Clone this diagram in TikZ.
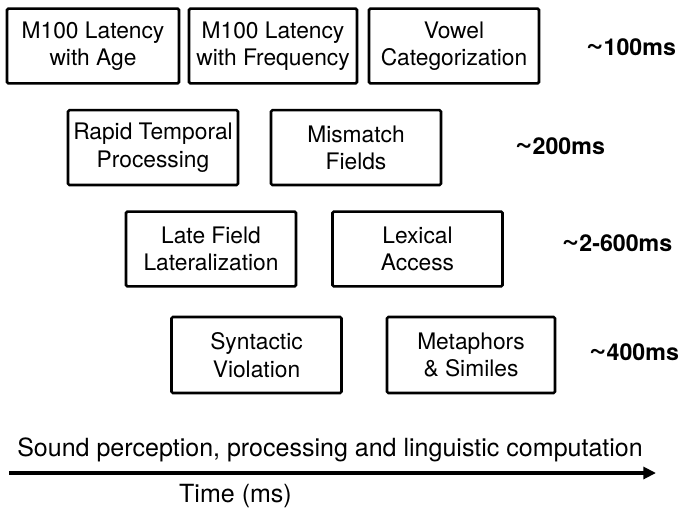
\documentclass[tikz,border=0pt]{standalone}
\usepackage{fontspec}
\setmainfont{TeX Gyre Heros}
\usepackage{tikz}
\usetikzlibrary{arrows.meta}
\usetikzlibrary{positioning}
\newcommand{\approxsign}{\raisebox{0.06em}{\scalebox{1.3}[1.25]{\textasciitilde}}}

\begin{document}
\begin{tikzpicture}[box/.style={rectangle, draw, line width=1.8pt, rounded corners=1pt, minimum width=4.25cm, minimum height=1.87cm, align=center, inner sep=0pt, font=\fontsize{16.2}{19.5}\selectfont}, latency/.style={font=\fontsize{16.5}{19}\selectfont\bfseries}, arrow/.style={line width=2.5pt, -{Triangle[length=9pt, width=8.5pt]}}]
\useasboundingbox (0,0) rectangle (17.225,-12.95);
% ~100ms
\node (AGE) [box, minimum width=4.3cm] at (2.325,-1.15) {M100 Latency\\with Age};
\node (FREQ) [box, minimum width=4.2cm] at (6.825,-1.15) {M100 Latency\\with Frequency};
\node (VOWEL) [box] at (11.35,-1.15) {Vowel\\Categorization};
\node (T100) [latency] at (15.775,-1.175) {\approxsign100ms};
% ~200ms
\node (RAPID) [box] at (3.825,-3.69) {Rapid Temporal\\Processing};
\node (MISMATCH) [box] at (8.9,-3.69) {Mismatch\\Fields};
\node (T200) [latency] at (14.0,-3.65) {\approxsign200ms};
% ~2-600ms
\node (LATE) [box] at (5.275,-6.225) {Late Field\\Lateralization};
\node (LEXICAL) [box] at (10.4375,-6.225) {Lexical\\Access};
\node (T600) [latency] at (15.425,-6.075) {\approxsign2-600ms};
% ~400ms
\node (SYNTAX) [box, minimum height=1.9cm] at (6.4125,-8.875) {Syntactic\\Violation};
\node (METAPHOR) [box, minimum width=4.2cm, minimum height=1.9cm] at (11.775,-8.875) {Metaphors\\\& Similes};
\node (T400) [latency] at (15.85,-8.8) {\approxsign400ms};
% time axis
\node (SOUND) [anchor=base west, inner sep=0pt, font=\fontsize{17.8}{20}\selectfont] at (0.425,-11.4) {Sound perception, processing and linguistic computation};
\coordinate (START) at (0.225,-11.825);
\coordinate (END) at (16.4,-11.825);
\draw [arrow] (START) -- (END);
\node (TIME) [inner sep=0pt, font=\fontsize{17.8}{20}\selectfont] at (5.8875,-12.4) {Time (ms)};
\end{tikzpicture}
\end{document}
